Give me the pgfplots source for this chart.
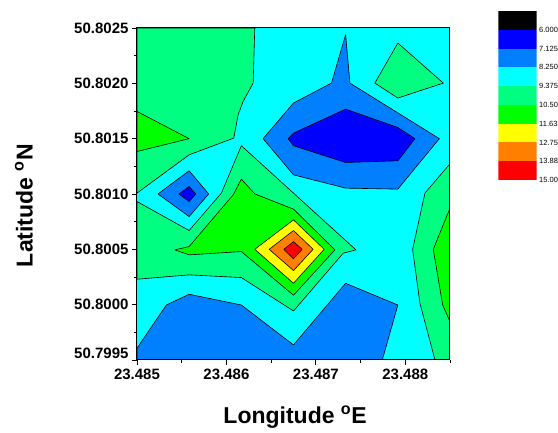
\documentclass[border=0pt]{standalone}
\usepackage{fontspec}
\setmainfont{Liberation Sans}
\usepackage{pgfplots}
\pgfplotsset{compat=1.18}
\definecolor{cBlue}{RGB}{0,0,255}
\definecolor{cAzure}{RGB}{0,128,255}
\definecolor{cCyan}{RGB}{0,255,255}
\definecolor{cSpring}{RGB}{0,255,128}
\definecolor{cGreen}{RGB}{0,255,0}
\definecolor{cYellow}{RGB}{255,255,0}
\definecolor{cOrange}{RGB}{255,128,0}
\definecolor{cRed}{RGB}{255,0,0}
\begin{document}
\begin{tikzpicture}
\begin{axis}[at={(0pt,0pt)}, anchor=south west, scale only axis,
  width=313pt, height=332pt,
  xmin=0, xmax=3.5, ymin=0, ymax=3,
  axis on top, axis line style={line width=1pt},
  tick pos=left, tick align=outside,
  major tick length=5pt, minor tick length=3pt,
  every tick/.style={black, line width=0.8pt},
  xtick={0,1,2,3}, xticklabels={23.485,23.486,23.487,23.488},
  minor xtick={0.5,1.5,2.5,3.5},
  ytick={0,0.5,1,1.5,2,2.5,3},
  yticklabels={\raisebox{14pt}{50.7995},50.8000,50.8005,50.8010,50.8015,50.8020,50.8025},
  minor ytick={0.25,0.75,1.25,1.75,2.25,2.75},
  ticklabel style={font=\bfseries\fontsize{15}{16}\selectfont},
  xlabel={Longitude \textsuperscript{o}E},
  ylabel={Latitude \textsuperscript{o}N},
  xlabel style={font=\bfseries\fontsize{23}{26}\selectfont, at={(axis description cs:0.505,-0.172)}, anchor=center},
  ylabel style={font=\bfseries\fontsize{23}{26}\selectfont, at={(axis description cs:-0.361,0.465)}, anchor=center},
  every axis plot/.append style={line width=0.6pt, line join=round},
]
\addplot[fill=cCyan, draw=none] coordinates {(0,0) (3.5,0) (3.5,3) (0,3)} -- cycle;
% top-left spring green
\addplot[fill=cSpring, draw=black] coordinates {(0,3) (1.317,3) (1.299,2.502) (1.187,2.337) (1.131,2.216) (1.082,2.005) (0.583,1.854) (0,1.508)} -- cycle;
\addplot[fill=cGreen, draw=black] coordinates {(0,2.246) (0.583,2.0) (0,1.884)} -- cycle;
% central
\addplot[fill=cSpring, draw=black] coordinates {(0,1.432) (0.583,1.170) (0.944,1.508) (1.167,1.936) (1.75,1.508) (2.448,0.995) (2.306,0.965) (1.75,0.443) (1.167,0.745) (0.583,0.769) (0,0.730)} -- cycle;
\addplot[fill=cGreen, draw=black] coordinates {(0.422,0.995) (0.583,1.025) (1.075,1.492) (1.167,1.634) (1.317,1.501) (1.75,1.363) (2.213,0.995) (1.75,0.585) (1.167,0.980) (0.583,0.950)} -- cycle;
\addplot[fill=cYellow, draw=black] coordinates {(1.317,1.0) (1.75,1.266) (2.093,1.0) (1.75,0.693)} -- cycle;
\addplot[fill=cOrange, draw=black] coordinates {(1.478,1.0) (1.75,1.170) (1.970,1.0) (1.75,0.808)} -- cycle;
\addplot[fill=cRed, draw=black] coordinates {(1.642,1.0) (1.75,1.070) (1.847,1.0) (1.75,0.914)} -- cycle;
% left diamond
\addplot[fill=cAzure, draw=black] coordinates {(0.235,1.5) (0.583,1.710) (0.802,1.5) (0.583,1.296)} -- cycle;
\addplot[fill=cBlue, draw=black] coordinates {(0.470,1.5) (0.583,1.568) (0.657,1.5) (0.583,1.432)} -- cycle;
% big low
\addplot[fill=cAzure, draw=black] coordinates {(1.410,2.0) (1.75,2.322) (2.175,2.502) (2.333,2.940) (2.381,2.502) (3.381,2.0) (2.917,1.544) (2.333,1.553) (1.75,1.673)} -- cycle;
\addplot[fill=cBlue, draw=black] coordinates {(1.690,2.0) (1.75,2.050) (2.333,2.267) (2.917,2.101) (3.108,2.0) (2.917,1.800) (2.333,1.785) (1.75,1.936)} -- cycle;
% top-right
\addplot[fill=cSpring, draw=black] coordinates {(2.660,2.502) (2.917,2.864) (3.425,2.502) (2.917,2.367)} -- cycle;
% right edge
\addplot[fill=cSpring, draw=black] coordinates {(3.5,1.773) (3.220,1.508) (3.082,1.0) (3.164,0.513) (3.332,0) (3.5,0)} -- cycle;
\addplot[fill=cGreen, draw=black] coordinates {(3.5,1.372) (3.313,1.0) (3.418,0.497) (3.5,0.347)} -- cycle;
% bottom
\addplot[fill=cAzure, draw=black] coordinates {(0,0.106) (0.328,0.497) (0.583,0.594) (1.167,0.497) (1.75,0.136) (2.333,0.693) (2.917,0.497) (2.743,0) (0,0)} -- cycle;
\end{axis}
% colour scale
\begin{axis}[at={(361.3pt,180pt)}, anchor=south west, scale only axis,
  width=38.4pt, height=169pt,
  xmin=0, xmax=1, ymin=0, ymax=9, y dir=reverse,
  axis line style={draw=none}, xtick=\empty,
  ytick={1,2,3,4,5,6,7,8,9},
  yticklabels={6.000,7.125,8.250,9.375,10.50,11.63,12.75,13.88,15.00},
  yticklabel pos=right, major tick length=0pt,
  yticklabel style={font=\fontsize{7.5}{8}\selectfont, xshift=-1pt},
]
\addplot[fill=black, draw=none] coordinates {(0,0) (1,0) (1,1) (0,1)} -- cycle;
\addplot[fill=cBlue, draw=none] coordinates {(0,1) (1,1) (1,2) (0,2)} -- cycle;
\addplot[fill=cAzure, draw=none] coordinates {(0,2) (1,2) (1,3) (0,3)} -- cycle;
\addplot[fill=cCyan, draw=none] coordinates {(0,3) (1,3) (1,4) (0,4)} -- cycle;
\addplot[fill=cSpring, draw=none] coordinates {(0,4) (1,4) (1,5) (0,5)} -- cycle;
\addplot[fill=cGreen, draw=none] coordinates {(0,5) (1,5) (1,6) (0,6)} -- cycle;
\addplot[fill=cYellow, draw=none] coordinates {(0,6) (1,6) (1,7) (0,7)} -- cycle;
\addplot[fill=cOrange, draw=none] coordinates {(0,7) (1,7) (1,8) (0,8)} -- cycle;
\addplot[fill=cRed, draw=none] coordinates {(0,8) (1,8) (1,9) (0,9)} -- cycle;
\end{axis}
\pgfresetboundingbox
\path (-137pt,-73pt) rectangle (421pt,360pt);
\end{tikzpicture}
\end{document}
